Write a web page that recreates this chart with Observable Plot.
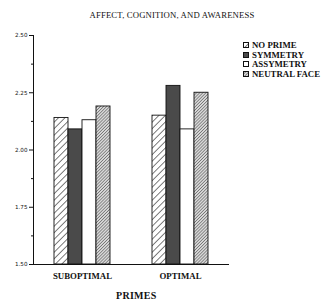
<!DOCTYPE html>
<html>
<head>
<meta charset="utf-8">
<script src="https://cdn.jsdelivr.net/npm/d3@7"></script>
<script src="https://cdn.jsdelivr.net/npm/@observablehq/plot@0.6"></script>
<style>
  html, body { margin: 0; padding: 0; background: #fff; }
  body { width: 322px; height: 304px; position: relative; overflow: hidden; font-family: "Liberation Serif", serif; color: #111; }
  #title { position: absolute; left: 0; top: 10px; width: 344px; text-align: center; font-size: 8.7px; letter-spacing: 0.15px; }
  #chart { position: absolute; left: 0; top: 26px; }
  #legend { position: absolute; left: 243px; top: 40px; font-weight: bold; font-size: 8.8px; }
  #legend .row { height: 9.7px; display: flex; align-items: center; white-space: nowrap; }
  #legend svg { margin-right: 3px; flex: none; }
  #caption { position: absolute; left: 116px; top: 290px; font-weight: bold; font-size: 10px; line-height: 12px; letter-spacing: 0.3px; }
</style>
</head>
<body>
<svg width="0" height="0" style="position:absolute">
  <defs>
    <pattern id="hatchWide" patternUnits="userSpaceOnUse" width="4.6" height="4.6" patternTransform="rotate(45)">
      <rect width="4.6" height="4.6" fill="#fff"/>
      <line x1="0" y1="0" x2="0" y2="4.6" stroke="#111" stroke-width="1.1"/>
    </pattern>
    <pattern id="hatchFine" patternUnits="userSpaceOnUse" width="2.2" height="2.2" patternTransform="rotate(45)">
      <rect width="2.2" height="2.2" fill="#d8d8d8"/>
      <line x1="0" y1="0" x2="0" y2="2.2" stroke="#333" stroke-width="0.9"/>
    </pattern>
  </defs>
</svg>
<div id="title">AFFECT, COGNITION, AND AWARENESS</div>
<div id="chart"></div>
<div id="legend"></div>
<div id="caption">PRIMES</div>
<script>
const groups = ["SUBOPTIMAL", "OPTIMAL"];
const series = ["NO PRIME", "SYMMETRY", "ASSYMETRY", "NEUTRAL FACE"];
const suboptimalValues = [2.14, 2.09, 2.13, 2.19];
const optimalValues = [2.15, 2.28, 2.09, 2.25];
const yTicks = [1.50, 1.75, 2.00, 2.25, 2.50];
const yMinorTicks = [1.625, 1.875, 2.125, 2.375];
const seriesFills = ["url(#hatchWide)", "#4a4a4a", "#ffffff", "url(#hatchFine)"];

const data = [];
[suboptimalValues, optimalValues].forEach((vals, gi) => {
  vals.forEach((v, si) => data.push({group: groups[gi], series: series[si], value: v}));
});

const chart = Plot.plot({
  width: 322,
  height: 260,
  marginLeft: 33,
  marginRight: 93,
  marginTop: 9,
  marginBottom: 22,
  style: {background: "transparent", color: "#111"},
  fx: {domain: groups, padding: 0, label: null},
  x: {domain: series, paddingInner: 0, paddingOuter: 1.27, axis: null},
  y: {domain: [1.5, 2.5], label: null},
  color: {domain: series, range: seriesFills},
  marks: [
    Plot.barY(data, {fx: "group", x: "series", y1: 1.5, y2: "value", fill: "series", stroke: "#111", strokeWidth: 0.9}),
    Plot.ruleY([1.5], {stroke: "#111", strokeWidth: 1}),
    Plot.frame({anchor: "left", facetAnchor: "left", stroke: "#111", strokeWidth: 1}),
    Plot.axisY({ticks: yTicks, tickFormat: ".2f", tickSize: 4, tickPadding: 2, fontSize: 5.6, fontFamily: "DejaVu Sans, sans-serif", label: null}),
    Plot.axisY({ticks: yMinorTicks, tickFormat: () => "", tickSize: 2, label: null}),
    Plot.axisFx({anchor: "bottom", tickSize: 0, tickPadding: 8, fontSize: 8.8, fontWeight: "bold", fontFamily: "Liberation Serif, serif", label: null})
  ]
});
document.getElementById("chart").appendChild(chart);

const legend = document.getElementById("legend");
series.forEach((s, i) => {
  const row = document.createElement("div");
  row.className = "row";
  row.innerHTML = `<svg width="6" height="6"><rect x="0.5" y="0.5" width="5" height="5" fill="${seriesFills[i]}" stroke="#111" stroke-width="1"/></svg><span>${s}</span>`;
  legend.appendChild(row);
});
</script>
</body>
</html>
